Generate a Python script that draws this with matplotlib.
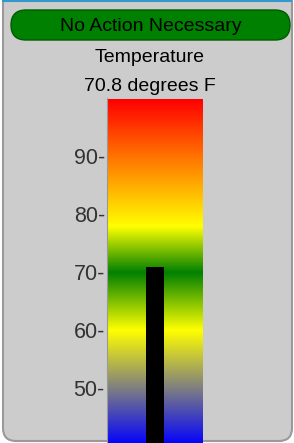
import matplotlib
matplotlib.use("Agg")
import matplotlib.pyplot as plt
import numpy as np
from matplotlib.patches import FancyBboxPatch
from matplotlib.colors import LinearSegmentedColormap

status_text = "No Action Necessary"
title_text = "Temperature"
value = 70.8
value_label = "70.8 degrees F"
tick_values = [50, 60, 70, 80, 90]
tick_labels = ["50-", "60-", "70-", "80-", "90-"]
y_min, y_max = 40, 100
stop_values = [40, 60, 70, 78, 100]
stop_colors = ["#0000ff", "#ffff00", "#008000", "#ffff00", "#ff0000"]

W, H = 294, 443
fig = plt.figure(figsize=(W / 100, H / 100), dpi=100, facecolor="white")

def fx(px):
    return px / W

def fy(py):
    return 1 - py / H

# background axes in pixel coordinates
bg = fig.add_axes([0, 0, 1, 1], zorder=-1)
bg.set_xlim(0, W)
bg.set_ylim(H, 0)
bg.axis("off")
bg.add_patch(FancyBboxPatch((3, -20), 289, 461,
                            boxstyle="round,pad=0,rounding_size=13",
                            facecolor="#cccccc", edgecolor="#999999", linewidth=1.5))
bg.plot([2, 292], [0.6, 0.6], color="#3399cc", linewidth=1.5, solid_capstyle="butt")
bg.add_patch(FancyBboxPatch((11, 10), 279, 30,
                            boxstyle="round,pad=0,rounding_size=15",
                            facecolor="#008000", edgecolor="#005a00", linewidth=1.0))

font = "Liberation Sans"
fig.text(fx(151), fy(31.3), status_text, ha="center", va="baseline", fontsize=14,
         family=font, color="#000000")
fig.text(fx(150), fy(62.3), title_text, ha="center", va="baseline", fontsize=14,
         family=font, color="#000000")
fig.text(fx(150), fy(90.8), value_label, ha="center", va="baseline", fontsize=14,
         family=font, color="#000000")

# gauge axes
top_px, bot_px = 98.5, 445.5
ax = fig.add_axes([fx(107), fy(bot_px), fx(96), fy(top_px) - fy(bot_px)], zorder=1)
ax.set_facecolor("none")
pos = [(v - y_min) / (y_max - y_min) for v in stop_values]
cmap = LinearSegmentedColormap.from_list("temp", list(zip(pos, stop_colors)))
grad = np.linspace(y_min, y_max, 512).reshape(-1, 1)
ax.imshow(grad, cmap=cmap, aspect="auto", origin="lower",
          extent=[0, 1, y_min, y_max], vmin=y_min, vmax=y_max, interpolation="bilinear")
ax.bar([0.5], [value - y_min], bottom=y_min, width=18 / 96, color="#000000")
ax.set_xlim(0, 1)
ax.set_ylim(y_min, y_max)
ax.set_xticks([])
ax.set_yticks(tick_values)
ax.set_yticklabels(tick_labels, family=font, fontsize=15.5, color="#333333")
ax.tick_params(axis="y", length=0, pad=1.5)
for s in ["top", "right", "bottom"]:
    ax.spines[s].set_visible(False)
ax.spines["left"].set_color("#999999")
ax.spines["left"].set_linewidth(0.8)

fig.savefig("out.png", dpi=100, facecolor="white")
